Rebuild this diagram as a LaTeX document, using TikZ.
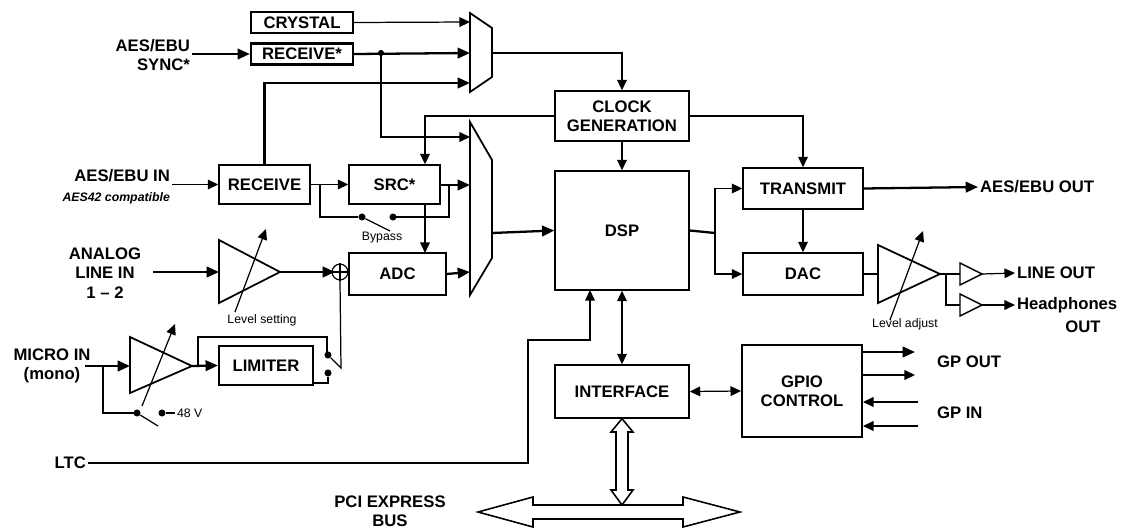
\documentclass[tikz,border=0pt]{standalone}
\usepackage{fontspec}
\setmainfont{Liberation Sans}
\usetikzlibrary{arrows.meta,calc}
\begin{document}
\begin{tikzpicture}[x=0.02cm,y=-0.02cm]
    \tikzstyle{blk} = [draw, line width=0.8pt, inner sep=0pt, font=\bfseries\fontsize{9.5}{11}\selectfont, align=center]
    \tikzstyle{lbl} = [font=\bfseries\fontsize{9.5}{11}\selectfont, align=center, inner sep=1pt]
    \tikzstyle{tiny} = [font=\fontsize{7}{8}\selectfont, inner sep=1pt]
    \tikzstyle{sig} = [line width=1.3pt, -{Triangle[length=7pt,width=6pt]}]
    \tikzstyle{thin} = [line width=0.7pt]
    \tikzstyle{arr} = [line width=0.7pt, -{Triangle[length=6pt,width=5.5pt]}]
    \tikzstyle{dot} = [circle, fill, inner sep=0pt, minimum size=4pt]
    \useasboundingbox (0,0) rectangle (1134,531);

    % blocks
    \node [blk, minimum width=2.04cm, minimum height=0.42cm] (crystal) at (302,22.5) {CRYSTAL};
    \node [blk, line width=1.3pt, minimum width=2.04cm, minimum height=0.42cm] (syncrx) at (302,54) {RECEIVE*};
    \node [blk, minimum width=1.82cm, minimum height=0.78cm] (rx) at (264.5,184.5) {RECEIVE};
    \node [blk, minimum width=1.82cm, minimum height=0.78cm] (src) at (394.5,184.5) {SRC*};
    \node [blk, minimum width=1.94cm, minimum height=0.84cm] (adc) at (397.5,274) {ADC};
    \node [blk, line width=1.3pt, minimum width=1.88cm, minimum height=0.78cm] (limiter) at (266,365.5) {LIMITER};
    \node [blk, minimum width=2.68cm, minimum height=1cm] (clk) at (622,116) {CLOCK\\GENERATION};
    \node [blk, minimum width=2.68cm, minimum height=2.38cm] (dsp) at (622,230.5) {DSP};
    \node [blk, minimum width=2.68cm, minimum height=1.06cm] (iface) at (622,391.5) {INTERFACE};
    \node [blk, line width=1.1pt, minimum width=2.4cm, minimum height=1.84cm] (gpio) at (802,391) {GPIO\\CONTROL};
    \node [blk, minimum width=2.4cm, minimum height=0.82cm] (tx) at (803,188.5) {TRANSMIT};
    \node [blk, minimum width=2.4cm, minimum height=0.84cm] (dac) at (803,274) {DAC};

    % labels
    \node [lbl, anchor=east, align=right] (syncin) at (192,55) {AES/EBU\\SYNC*};
    \node [lbl, anchor=east] (aesin) at (172,176) {AES/EBU IN};
    \node [tiny, anchor=east, font=\bfseries\itshape\fontsize{7}{8}\selectfont] (aes42) at (172,198) {AES42 compatible};
    \node [lbl] (anain) at (105,273) {ANALOG\\LINE IN\\1 -- 2};
    \node [lbl] (micin) at (52,366) {MICRO IN\\(mono)};
    \node [lbl, anchor=east] (ltc) at (88,463) {LTC};
    \node [lbl] (pci) at (390,511) {PCI EXPRESS\\BUS};
    \node [lbl, anchor=west] (aesout) at (978,187) {AES/EBU OUT};
    \node [lbl, anchor=west] (lineout) at (1015,273) {LINE OUT};
    \node [lbl, anchor=west] (hpout) at (1015,305) {Headphones};
    \node [lbl] (hpout2) at (1083,327) {OUT};
    \node [lbl, anchor=west] (gpout) at (935,362) {GP OUT};
    \node [lbl, anchor=west] (gpin) at (935,413) {GP IN};
    \node [tiny] (bypass) at (382,238) {Bypass};
    \node [tiny] (lvlset) at (262,320) {Level setting};
    \node [tiny] (lvladj) at (905,324) {Level adjust};
    \node [tiny, anchor=west] (v48) at (175,413) {48 V};

    % multiplexers
    \draw [line width=1pt] (470,13) -- (492,28) -- (492,77) -- (470,92) -- cycle;
    \draw [line width=1pt] (470,122) -- (492,160) -- (492,258) -- (470,295) -- cycle;

    % amplifiers
    \draw [line width=1pt] (219,240) -- (280,272) -- (219,303) -- cycle;
    \draw [line width=1pt] (130,337) -- (192,366) -- (130,393) -- cycle;
    \draw [line width=1pt] (878,245) -- (940,274) -- (878,303) -- cycle;
    \draw [line width=0.8pt] (960,263) -- (982,274) -- (960,285) -- cycle;
    \draw [line width=0.8pt] (960,294) -- (982,305) -- (960,316) -- cycle;
    \draw [arr] (235,312) -- (266,229);
    \draw [arr] (142,406) -- (175,324);
    \draw [arr] (890,320) -- (923,231);

    % clock path
    \draw [arr] (crystal.east) -- (470,22);
    \draw [sig] (syncin.east |- syncrx) -- (syncrx.west);
    \draw [sig] (syncrx.east) -- (470,53);
    \node [dot, minimum size=3.5pt] (j1) at (381,53) {};
    \draw [arr] (j1) |- (470,137);
    \draw [sig] (rx.north) |- (470,83);
    \draw [thin, -{Triangle[length=6pt,width=5.5pt]}] (492,53) -| (clk.north);
    \draw [arr] (clk.west) -| (src.north -| 425,0);
    \draw [arr] (clk.east) -| (tx.north);
    \draw [arr] (clk.south) -- (dsp.north);

    % audio inputs
    \draw [arr] (aesin.east |- rx) -- (rx.west);
    \draw [arr] (rx.east) -- (src.west);
    \draw [sig] (src.east |- 0,185) -- (470,185);
    \draw [thin] (449,185) |- (393,217);
    \node [dot] (byb) at (393,217) {};
    \node [dot] (bya) at (362,217) {};
    \draw [thin] (320,184.5) |- (bya);
    \draw [thin] (bya) -- (390,231);
    \draw [arr] (425,204) -- (425,253);
    \draw [sig] (adc.east) -- (470,272);
    \draw [sig] (153,272) -- (219,272);
    \draw [sig] (280,272) -- (335,272);
    \node [draw, circle, thin, inner sep=0pt, minimum size=9pt] (sum) at (340,272) {};
    \draw [thin] (sum.north) -- (sum.south) (sum.west) -- (sum.east);
    \draw [sig] (85,366) -- (130,366);
    \draw [sig] (192,366) -- (limiter.west);
    \draw [thin] (198,366) |- (327,337) -- (327,352);
    \node [dot] (lima) at (328,355) {};
    \node [dot] (limb) at (328,373) {};
    \draw [thin] (limiter.east |- 0,383) -| (limb);
    \draw [thin] (sum.south) -- (341,368) -- (lima);
    \draw [thin] (103,366) |- (137,413);
    \node [dot] (pha) at (137,413) {};
    \node [dot] (phb) at (162,413) {};
    \draw [thin] (pha) -- (158,426);
    \draw [thin] (phb) -- (v48.west);

    % dsp and outputs
    \draw [sig] (492,233) -- (dsp.west);
    \draw [thin] (ltc.east) -- (528,463) |- (590,340) -- (590,300);
    \draw [arr] (590,340) -- (590,290);
    \draw [thin, {Triangle[length=6pt,width=5.5pt]}-{Triangle[length=6pt,width=5.5pt]}] (dsp.south) -- (iface.north);
    \draw [thin, {Triangle[length=6pt,width=5.5pt]}-{Triangle[length=6pt,width=5.5pt]}] (iface.east) -- (gpio.west);
    \draw [line width=1.3pt] (dsp.east) -- (715,233);
    \draw [arr] (715,233) |- (tx.west);
    \draw [arr] (715,233) |- (dac.west);
    \draw [sig] (tx.east) -- (aesout.west);
    \draw [arr] (tx.south) -- (dac.north);
    \draw [thin] (dac.east) -- (878,274);
    \draw [thin] (940,274) -- (960,274);
    \draw [thin] (946,274) |- (960,305);
    \draw [arr] (982,274) -- (lineout.west);
    \draw [arr] (982,305) -- (hpout.west);

    % gpio lines
    \draw [sig] (gpio.east |- 0,352) -- (915,352);
    \draw [arr] (gpio.east |- 0,375) -- (915,375);
    \draw [arr] (918,402) -- (gpio.east |- 0,402);
    \draw [arr] (918,426) -- (gpio.east |- 0,426);

    % pci bus
    \draw [line width=0.9pt, fill=white] (478,512) -- (533,497) -- (533,505) -- (683,505) -- (683,497) -- (740,512)
        -- (683,527) -- (683,519) -- (533,519) -- (533,527) -- cycle;
    \draw [line width=0.9pt, fill=white] (iface.south) -- (633,432) -- (628,432) -- (628,490) -- (633,490) -- (622,505)
        -- (611,490) -- (616,490) -- (616,432) -- (611,432) -- cycle;
\end{tikzpicture}
\end{document}
